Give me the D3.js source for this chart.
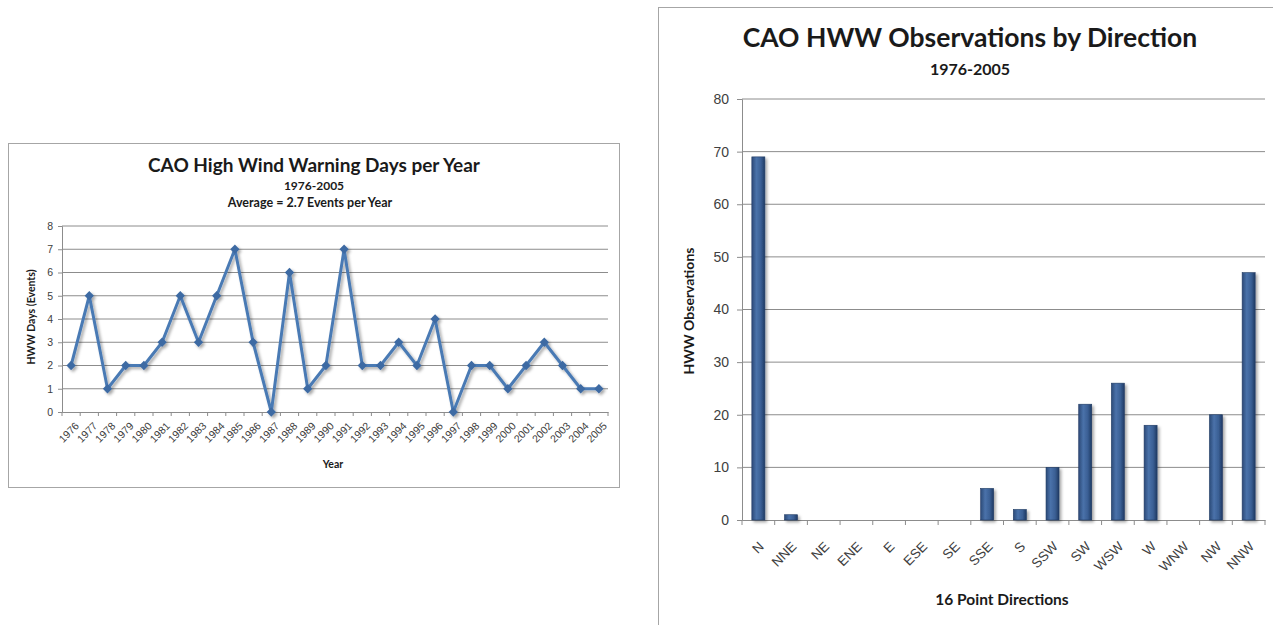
<!DOCTYPE html>
<html>
<head>
<meta charset="utf-8">
<script src="https://cdn.jsdelivr.net/npm/d3@7"></script>
<style>
  body { margin: 0; background: #fff; }
  svg { display: block; font-family: Lato, "Open Sans", sans-serif; }
  .tick text { fill: #404040; }
</style>
</head>
<body>
<div id="chart"></div>
<script>
// line chart data
const years = ["1976","1977","1978","1979","1980","1981","1982","1983","1984","1985",
  "1986","1987","1988","1989","1990","1991","1992","1993","1994","1995",
  "1996","1997","1998","1999","2000","2001","2002","2003","2004","2005"];
const hwwDays = [2,5,1,2,2,3,5,3,5,7, 3,0,6,1,2,7,2,2,3,2, 4,0,2,2,1,2,3,2,1,1];
const daysTicks = [0,1,2,3,4,5,6,7,8];

// bar chart data
const directions = ["N","NNE","NE","ENE","E","ESE","SE","SSE","S","SSW","SW","WSW","W","WNW","NW","NNW"];
const observations = [69,1,0,0,0,0,0,6,2,10,22,26,18,0,20,47];
const obsTicks = [0,10,20,30,40,50,60,70,80];

let svg = d3.select("#chart").append("svg")
  .attr("width", 1273)
  .attr("height", 625);

let defs = svg.append("defs");
let shadow = defs.append("filter").attr("id", "shadow")
  .attr("x", "-30%").attr("y", "-30%").attr("width", "160%").attr("height", "160%");
shadow.append("feDropShadow")
  .attr("dx", 2).attr("dy", 2).attr("stdDeviation", 1.5)
  .attr("flood-color", "#000").attr("flood-opacity", 0.35);

let grad = defs.append("linearGradient").attr("id", "barGrad")
  .attr("x1", "0%").attr("x2", "100%");
grad.append("stop").attr("offset", "0%").attr("stop-color", "#2c4a78");
grad.append("stop").attr("offset", "35%").attr("stop-color", "#4a72aa");
grad.append("stop").attr("offset", "70%").attr("stop-color", "#3a5f94");
grad.append("stop").attr("offset", "100%").attr("stop-color", "#1f3a63");

/* ---------------- left: line chart ---------------- */
let left = svg.append("g");
left.append("rect")
  .attr("x", 8.5).attr("y", 143.5).attr("width", 611).attr("height", 344)
  .attr("fill", "#fff").attr("stroke", "#a6a6a6");

let x1 = d3.scaleBand().domain(years).range([62, 608]);
let y1 = d3.scaleLinear().domain([0, 8]).range([412, 226]);

// gridlines
left.append("g").selectAll("line")
  .data(daysTicks.slice(1))
  .enter().append("line")
  .attr("x1", 62).attr("x2", 608)
  .attr("y1", d => y1(d)).attr("y2", d => y1(d))
  .attr("stroke", "#8c8c8c");

let yAx1 = left.append("g")
  .attr("transform", "translate(62,0)")
  .call(d3.axisLeft(y1).tickValues(daysTicks).tickSize(4).tickPadding(5));
yAx1.selectAll("text").attr("font-size", 10.5);
yAx1.selectAll("line, path").attr("stroke", "#8c8c8c");

let xAx1 = left.append("g")
  .attr("transform", "translate(0,412)")
  .call(d3.axisBottom(x1).tickSize(0));
xAx1.select("path").attr("stroke", "#8c8c8c");
xAx1.selectAll("text")
  .attr("font-size", 10.5)
  .attr("text-anchor", "end")
  .attr("x", 0).attr("y", 0).attr("dy", "0.35em")
  .attr("transform", "translate(6,12) rotate(-45)");
// ticks between categories
xAx1.selectAll(".sep").data(years.concat(["end"]))
  .enter().append("line")
  .attr("x1", (d, i) => 62 + i * x1.step()).attr("x2", (d, i) => 62 + i * x1.step())
  .attr("y1", 0).attr("y2", 4).attr("stroke", "#8c8c8c");

let line = d3.line()
  .x((d, i) => x1(years[i]) + x1.bandwidth() / 2)
  .y(d => y1(d));

let series = left.append("g").attr("filter", "url(#shadow)");
series.append("path")
  .datum(hwwDays)
  .attr("d", line)
  .attr("fill", "none")
  .attr("stroke", "#4a7ab4")
  .attr("stroke-width", 3)
  .attr("stroke-linejoin", "round");
series.selectAll("path.marker")
  .data(hwwDays)
  .enter().append("path")
  .attr("class", "marker")
  .attr("d", d3.symbol(d3.symbolDiamond2, 55))
  .attr("transform", (d, i) => `translate(${x1(years[i]) + x1.bandwidth() / 2},${y1(d)})`)
  .attr("fill", "#3d6aa3");

left.append("text").attr("x", 314).attr("y", 172)
  .attr("text-anchor", "middle").attr("font-size", 19).attr("font-weight", "bold")
  .attr("fill", "#1a1a1a").text("CAO High Wind Warning Days per Year");
left.append("text").attr("x", 314).attr("y", 190)
  .attr("text-anchor", "middle").attr("font-size", 12).attr("font-weight", "bold")
  .attr("fill", "#1a1a1a").text("1976-2005");
left.append("text").attr("x", 310).attr("y", 207)
  .attr("text-anchor", "middle").attr("font-size", 12.5).attr("font-weight", "bold")
  .attr("fill", "#1a1a1a").text("Average = 2.7 Events per Year");
left.append("text")
  .attr("transform", "translate(35,317) rotate(-90)")
  .attr("text-anchor", "middle").attr("font-size", 10.5).attr("font-weight", "bold")
  .attr("fill", "#1a1a1a").text("HWW Days (Events)");
left.append("text").attr("x", 333).attr("y", 468)
  .attr("text-anchor", "middle").attr("font-size", 10.5).attr("font-weight", "bold")
  .attr("fill", "#1a1a1a").text("Year");

/* ---------------- right: bar chart ---------------- */
let right = svg.append("g");
right.append("rect")
  .attr("x", 658.5).attr("y", 7.5).attr("width", 640).attr("height", 640)
  .attr("fill", "#fff").attr("stroke", "#a6a6a6");

let x2 = d3.scaleBand().domain(directions).range([742, 1265]);
let y2 = d3.scaleLinear().domain([0, 80]).range([520, 99]);

right.append("g").selectAll("line")
  .data(obsTicks.slice(1))
  .enter().append("line")
  .attr("x1", 742).attr("x2", 1265)
  .attr("y1", d => y2(d)).attr("y2", d => y2(d))
  .attr("stroke", "#8c8c8c");

let yAx2 = right.append("g")
  .attr("transform", "translate(742,0)")
  .call(d3.axisLeft(y2).tickValues(obsTicks).tickSize(5).tickPadding(8));
yAx2.selectAll("text").attr("font-size", 14);
yAx2.selectAll("line, path").attr("stroke", "#8c8c8c");

let xAx2 = right.append("g")
  .attr("transform", "translate(0,520)")
  .call(d3.axisBottom(x2).tickSize(0));
xAx2.select("path").attr("stroke", "#8c8c8c");
xAx2.selectAll("text")
  .attr("font-size", 13.5)
  .attr("text-anchor", "end")
  .attr("x", 0).attr("y", 0).attr("dy", "0.35em")
  .attr("transform", "translate(3,24) rotate(-45)");
xAx2.selectAll(".sep").data(directions.concat(["end"]))
  .enter().append("line")
  .attr("x1", (d, i) => 742 + i * x2.step()).attr("x2", (d, i) => 742 + i * x2.step())
  .attr("y1", 0).attr("y2", 5).attr("stroke", "#8c8c8c");

let bw = 13;
right.append("g").attr("filter", "url(#shadow)")
  .selectAll("rect")
  .data(observations)
  .enter().append("rect")
  .attr("x", (d, i) => x2(directions[i]) + x2.bandwidth() / 2 - bw / 2)
  .attr("width", bw)
  .attr("y", d => y2(d))
  .attr("height", d => y2(0) - y2(d))
  .attr("fill", "url(#barGrad)")
  .attr("stroke", "#1f3a63").attr("stroke-width", 0.6);

right.append("text").attr("x", 970).attr("y", 47)
  .attr("text-anchor", "middle").attr("font-size", 26.5).attr("font-weight", "bold")
  .attr("fill", "#1a1a1a").text("CAO HWW Observations by Direction");
right.append("text").attr("x", 970).attr("y", 75)
  .attr("text-anchor", "middle").attr("font-size", 16).attr("font-weight", "bold")
  .attr("fill", "#1a1a1a").text("1976-2005");
right.append("text")
  .attr("transform", "translate(694,311) rotate(-90)")
  .attr("text-anchor", "middle").attr("font-size", 14).attr("font-weight", "bold")
  .attr("fill", "#1a1a1a").text("HWW Observations");
right.append("text").attr("x", 1002).attr("y", 605)
  .attr("text-anchor", "middle").attr("font-size", 15.5).attr("font-weight", "bold")
  .attr("fill", "#1a1a1a").text("16 Point Directions");
</script>
</body>
</html>
